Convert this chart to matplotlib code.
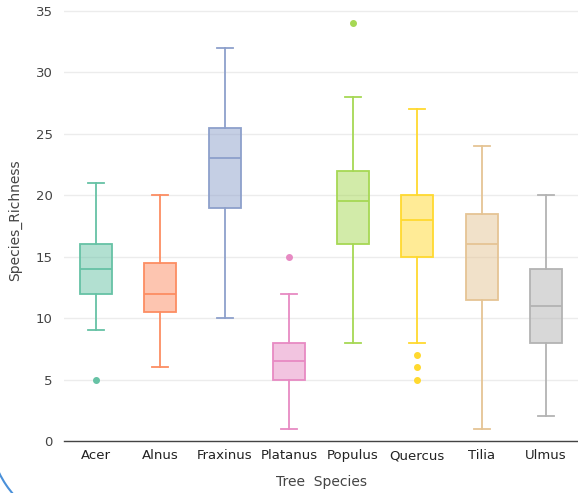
import matplotlib
matplotlib.use("Agg")
import matplotlib.pyplot as plt
from matplotlib.patches import Arc

# Box statistics
species = ["Acer", "Alnus", "Fraxinus", "Platanus", "Populus", "Quercus", "Tilia", "Ulmus"]
whisker_low = [9, 6, 10, 1, 8, 8, 1, 2]
q1 = [12, 10.5, 19, 5, 16, 15, 11.5, 8]
median = [14, 12, 23, 6.5, 19.5, 18, 16, 11]
q3 = [16, 14.5, 25.5, 8, 22, 20, 18.5, 14]
whisker_high = [21, 20, 32, 12, 28, 27, 24, 20]
outliers = [[5], [], [], [15], [34], [5, 6, 7], [], []]

colors = ["#66c2a5", "#fc8d62", "#8da0cb", "#e78ac3", "#a6d854", "#ffd92f", "#e5c494", "#b3b3b3"]

stats = []
for i, name in enumerate(species):
    stats.append({
        "label": name,
        "whislo": whisker_low[i],
        "q1": q1[i],
        "med": median[i],
        "q3": q3[i],
        "whishi": whisker_high[i],
        "fliers": outliers[i],
    })

fig = plt.figure(figsize=(5.78, 4.93), dpi=100)
ax = fig.add_axes([64 / 578, 52 / 493, 1 - 64 / 578, 441 / 493])

positions = list(range(len(species)))
for i, s in enumerate(stats):
    c = colors[i]
    ax.bxp([s], positions=[i], widths=0.5, patch_artist=True,
           boxprops=dict(facecolor=c + "80", edgecolor=c, linewidth=1.3),
           medianprops=dict(color=c, linewidth=1.3),
           whiskerprops=dict(color=c, linewidth=1.3),
           capprops=dict(color=c, linewidth=1.3),
           capwidths=0.25,
           flierprops=dict(marker="o", markersize=4, markerfacecolor=c,
                           markeredgecolor=c, linestyle="none"),
           zorder=3)

ax.set_xlim(-0.5, len(species) - 0.5)
ax.set_ylim(0, 35.9)
ax.set_yticks(range(0, 36, 5))
ax.set_xticks(positions)
ax.set_xticklabels(species)
ax.yaxis.grid(True, color="#ececec", linewidth=1)
ax.set_axisbelow(True)

for side in ["top", "right", "left"]:
    ax.spines[side].set_visible(False)
ax.spines["bottom"].set_color("#444444")
ax.spines["bottom"].set_linewidth(1)
ax.tick_params(axis="y", length=0, pad=8, labelsize=9.5, labelcolor="#444444")
ax.tick_params(axis="x", length=0, pad=6, labelsize=9.5, labelcolor="#222222")

ax.set_ylabel("Species_Richness", fontsize=10, color="#444444", labelpad=10)
ax.set_xlabel("Tree  Species", fontsize=10, color="#444444", labelpad=9)

# blue arc in the bottom-left corner of the screenshot
arc = Arc((89 / 578, 64 / 493), 200 / 578, 200 / 493, theta1=200, theta2=235,
          transform=fig.transFigure, color="#4a90d9", linewidth=1.5)
fig.patches.append(arc)

fig.savefig("out.png", dpi=100)
